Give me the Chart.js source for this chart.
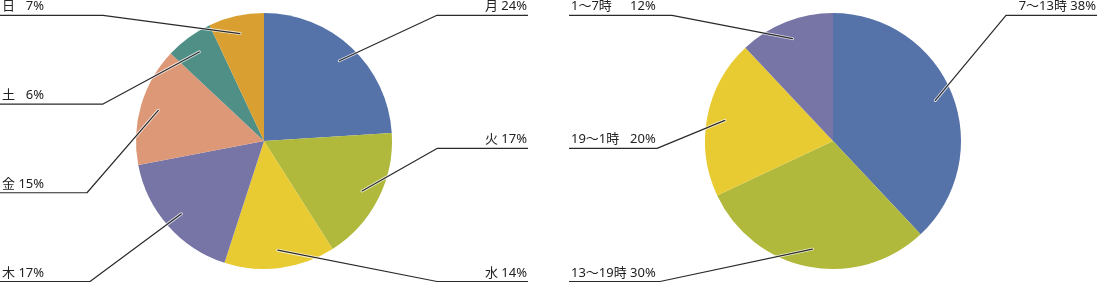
<!DOCTYPE html>
<html>
<head>
<meta charset="utf-8">
<script src="https://cdn.jsdelivr.net/npm/chart.js@4/dist/chart.umd.min.js"></script>
<style>
  html, body { margin: 0; padding: 0; background: #fff; }
  body { width: 1097px; height: 283px; position: relative; overflow: hidden; }
  canvas { position: absolute; top: 0; }
  #c1 { left: 0; }
  #c2 { left: 569px; }
</style>
</head>
<body>
<canvas id="c1" width="528" height="283"></canvas>
<canvas id="c2" width="528" height="283"></canvas>
<script>
// ---- data ----
const dayLabels = ['月', '火', '水', '木', '金', '土', '日'];
const dayValues = [24, 17, 14, 17, 15, 6, 7];
const hourLabels = ['7〜13時', '13〜19時', '19〜1時', '1〜7時'];
const hourValues = [38, 30, 20, 12];

// ---- style ----
const dayColors = ['#5673a9', '#b0b93b', '#e8cb33', '#7774a6', '#dd9878', '#4f8f85', '#d99f31'];
const hourColors = ['#5673a9', '#b0b93b', '#e8cb33', '#7774a6'];

const FONT = '13px "Noto Sans", "Noto Sans CJK JP", sans-serif';

const leaderPlugin = {
  id: 'leaders',
  afterDatasetsDraw(chart, args, opts) {
    const ctx = chart.ctx;
    const meta = chart.getDatasetMeta(0);
    const ds = chart.data.datasets[0];
    const labels = chart.data.labels;
    const total = ds.data.reduce((a, b) => a + b, 0);
    const W = chart.width;
    const items = meta.data.map((arc, i) => {
      const mid = (arc.startAngle + arc.endAngle) / 2;
      const r = arc.outerRadius * opts.anchor;
      const deg = (((mid + Math.PI / 2) * 180 / Math.PI) % 360 + 360) % 360;
      return {
        i, deg,
        x: arc.x + Math.cos(mid) * r,
        y: arc.y + Math.sin(mid) * r,
        name: labels[i],
        pct: Math.round(ds.data[i] / total * 100) + '%'
      };
    });
    const right = items.filter(d => d.deg < 180).sort((a, b) => a.deg - b.deg);
    const left = items.filter(d => d.deg >= 180).sort((a, b) => b.deg - a.deg);
    const rowY = (k, n) => n === 1 ? opts.top : opts.top + (opts.bottom - opts.top) * k / (n - 1);

    ctx.save();
    ctx.font = FONT;
    ctx.textBaseline = 'alphabetic';
    const sp = ctx.measureText(' ').width;
    let colW = 0;
    left.forEach(d => {
      colW = Math.max(colW, ctx.measureText(d.name).width + sp + ctx.measureText(d.pct).width);
    });

    const drawLine = (pts) => {
      ctx.beginPath();
      ctx.moveTo(pts[0][0], pts[0][1]);
      for (let k = 1; k < pts.length; k++) ctx.lineTo(pts[k][0], pts[k][1]);
      ctx.lineJoin = 'round';
      ctx.lineCap = 'round';
      ctx.strokeStyle = 'rgba(255,255,255,0.75)';
      ctx.lineWidth = 3;
      ctx.stroke();
      ctx.strokeStyle = '#2a2a2a';
      ctx.lineWidth = 1.2;
      ctx.stroke();
    };

    left.forEach((d, k) => {
      const y = rowY(k, left.length);
      const ex = opts.leftElbows[k];
      drawLine([[0, y], [ex, y], [d.x, d.y]]);
      ctx.fillStyle = '#222';
      ctx.textAlign = 'left';
      ctx.fillText(d.name, 2, y - 5);
      ctx.textAlign = 'right';
      ctx.fillText(d.pct, 2 + colW, y - 5);
    });
    right.forEach((d, k) => {
      const y = rowY(k, right.length);
      drawLine([[W, y], [opts.rightElbow, y], [d.x, d.y]]);
      ctx.fillStyle = '#222';
      ctx.textAlign = 'right';
      ctx.fillText(d.name + ' ' + d.pct, W - 1, y - 5);
    });
    ctx.restore();
  }
};

function makePie(id, labels, values, colors, leftElbows) {
  return new Chart(document.getElementById(id), {
    type: 'pie',
    data: {
      labels: labels,
      datasets: [{
        data: values,
        backgroundColor: colors,
        borderWidth: 0
      }]
    },
    options: {
      responsive: false,
      animation: false,
      events: [],
      layout: { padding: { left: 136, right: 136, top: 13, bottom: 14 } },
      plugins: {
        legend: { display: false },
        tooltip: { enabled: false },
        leaders: {
          anchor: 0.86,
          top: 15.3,
          bottom: 281.5,
          rightElbow: 437,
          leftElbows: leftElbows
        }
      }
    },
    plugins: [leaderPlugin]
  });
}

makePie('c1', dayLabels, dayValues, dayColors, [103, 103, 87, 90]);
makePie('c2', hourLabels, hourValues, hourColors, [103, 88, 91]);
</script>
</body>
</html>
